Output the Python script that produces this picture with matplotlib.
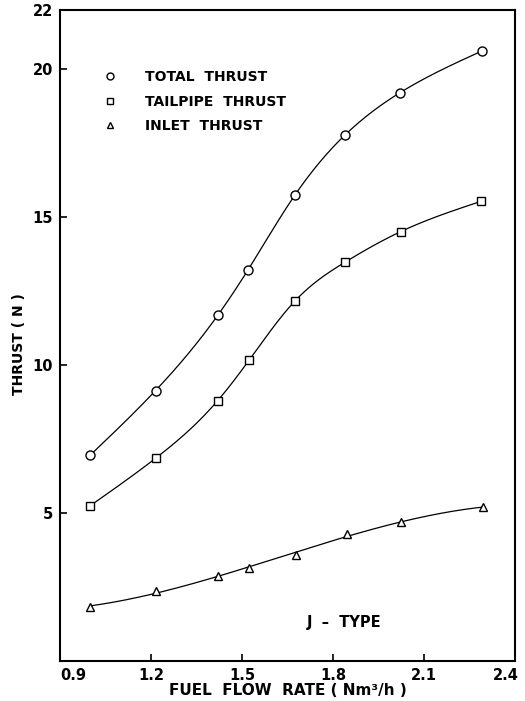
import numpy as np
import matplotlib
matplotlib.use("Agg")
import matplotlib.pyplot as plt
from matplotlib.lines import Line2D
from matplotlib.transforms import ScaledTranslation

# ---- data ----
flow_total = [1.00, 1.215, 1.42, 1.52, 1.674, 1.84, 2.02, 2.29]
total_thrust = [6.96, 9.14, 11.68, 13.22, 15.74, 17.78, 19.20, 20.61]

flow_tail = [1.00, 1.215, 1.42, 1.523, 1.674, 1.84, 2.023, 2.287]
tail_thrust = [5.25, 6.85, 8.80, 10.16, 12.16, 13.48, 14.51, 15.53]

flow_inlet = [1.00, 1.215, 1.42, 1.523, 1.677, 1.845, 2.023, 2.296]
inlet_thrust = [1.83, 2.37, 2.87, 3.13, 3.59, 4.29, 4.71, 5.19]

xticks = [0.9, 1.2, 1.5, 1.8, 2.1, 2.4]
xticklabels = ["0.9", "1.2", "1.5", "1.8", "2.1", "2.4"]
yticks = [5, 10, 15, 20, 22]
legend_labels = ["TOTAL  THRUST", "TAILPIPE  THRUST", "INLET  THRUST"]


def natural_spline(x, y, n=300):
    x = np.asarray(x, float); y = np.asarray(y, float)
    m = len(x)
    h = np.diff(x)
    A = np.zeros((m, m)); b = np.zeros(m)
    A[0, 0] = A[-1, -1] = 1
    for i in range(1, m - 1):
        A[i, i - 1] = h[i - 1]
        A[i, i] = 2 * (h[i - 1] + h[i])
        A[i, i + 1] = h[i]
        b[i] = 6 * ((y[i + 1] - y[i]) / h[i] - (y[i] - y[i - 1]) / h[i - 1])
    M = np.linalg.solve(A, b)
    xs = np.linspace(x[0], x[-1], n)
    idx = np.clip(np.searchsorted(x, xs) - 1, 0, m - 2)
    x0, x1 = x[idx], x[idx + 1]
    hh = x1 - x0
    ys = (M[idx] * (x1 - xs) ** 3 / (6 * hh) + M[idx + 1] * (xs - x0) ** 3 / (6 * hh)
          + (y[idx] / hh - M[idx] * hh / 6) * (x1 - xs)
          + (y[idx + 1] / hh - M[idx + 1] * hh / 6) * (xs - x0))
    return xs, ys


fig = plt.figure(figsize=(5.25, 7.01), dpi=100)
ax = fig.add_axes([60 / 525, 1 - 661 / 701, 455 / 525, 651 / 701])

lw = 0.9
xs, ys = natural_spline(flow_total, total_thrust)
ax.plot(xs, ys, color="black", lw=lw)
xs, ys = natural_spline(flow_tail, tail_thrust)
ax.plot(xs, ys, color="black", lw=lw)
p = np.polyfit(flow_inlet, inlet_thrust, 3)
xs = np.linspace(flow_inlet[0], flow_inlet[-1], 300)
ax.plot(xs, np.polyval(p, xs), color="black", lw=lw)

mk = dict(color="black", markerfacecolor="white", markeredgecolor="black",
          markeredgewidth=1.0, linestyle="none", zorder=3)
ax.plot(flow_total, total_thrust, marker="o", markersize=6.5, **mk)
ax.plot(flow_tail, tail_thrust, marker="s", markersize=6, **mk)
ax.plot(flow_inlet, inlet_thrust, marker="^", markersize=6, **mk)

ax.set_xlim(0.9, 2.4)
ax.set_ylim(0, 22)
ax.set_xticks(xticks)
ax.set_xticklabels(xticklabels)
ax.set_yticks(yticks)
ax.set_yticklabels([str(v) for v in yticks])
ax.tick_params(direction="in", length=5, width=1.2, labelsize=10.5, pad=5)
ax.tick_params(axis="y", pad=5)
for lab in ax.get_xticklabels() + ax.get_yticklabels():
    lab.set_fontweight("bold")
xl = ax.get_xticklabels()
xl[0].set_horizontalalignment("left")
xl[-1].set_horizontalalignment("right")
xl[-1].set_transform(xl[-1].get_transform() + ScaledTranslation(4 / 100, 0, fig.dpi_scale_trans))
for s in ax.spines.values():
    s.set_linewidth(1.5)

# legend
handles = [
    Line2D([], [], marker="o", markersize=5, **mk),
    Line2D([], [], marker="s", markersize=4.5, **mk),
    Line2D([], [], marker="^", markersize=5, **mk),
]
ax.legend(handles, legend_labels, loc="upper left",
          bbox_to_anchor=(0.082, 0.916), frameon=False, handlelength=1.0,
          handletextpad=2.0, labelspacing=0.75, borderaxespad=0,
          prop=dict(size=10, weight="bold"))

ax.text(1.714, 1.29, "J  \u2013  TYPE", fontsize=10.5, fontweight="bold",
        va="center", ha="left")

ax.set_ylabel("THRUST ( N )", fontsize=10, fontweight="bold")
ax.yaxis.set_label_coords(-0.075, 0.487)
ax.set_xlabel("FUEL  FLOW  RATE ( Nm\u00b3/h )", fontsize=11,
              fontweight="bold", labelpad=0)

fig.savefig("out.png", dpi=100)
